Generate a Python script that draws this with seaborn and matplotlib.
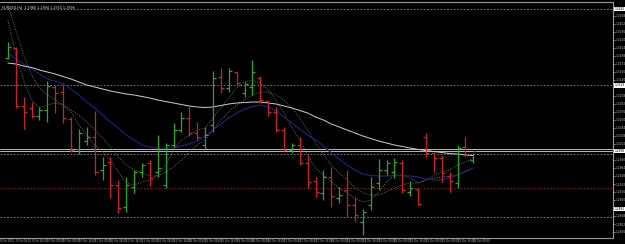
import matplotlib
matplotlib.use("Agg")
import matplotlib.pyplot as plt
import seaborn as sns
import pandas as pd
import numpy as np

# ---------------- data ----------------
bar_open = [1.3184, 1.3204, 1.3088, 1.3084, 1.3068, 1.3080, 1.3126, 1.3116, 1.3062, 1.3002,
            1.3018, 1.3026, 1.2960, 1.2976, 1.2930, 1.2886, 1.2926, 1.2956, 1.2974, 1.2956,
            1.2930, 1.3010, 1.3040, 1.3064, 1.3034, 1.3010, 1.3050, 1.3146, 1.3124, 1.3156,
            1.3114, 1.3126, 1.3144, 1.3098, 1.3076, 1.3040, 1.3000, 1.3010, 1.2974, 1.2938,
            1.2914, 1.2946, 1.2904, 1.2920, 1.2890, 1.2856, 1.2890, 1.2934, 1.2960, 1.2956,
            1.2974, 1.2916, 1.2922, 1.3026, 1.2994, 1.2984, 1.2948, 1.2934, 1.3006, 1.2980]
bar_high = [1.3216, 1.3206, 1.3106, 1.3096, 1.3086, 1.3138, 1.3130, 1.3132, 1.3066, 1.3042,
            1.3046, 1.3078, 1.2986, 1.2986, 1.2940, 1.2946, 1.2960, 1.2974, 1.2980, 1.3030,
            1.3014, 1.3054, 1.3076, 1.3088, 1.3056, 1.3046, 1.3158, 1.3164, 1.3164, 1.3156,
            1.3136, 1.3180, 1.3148, 1.3100, 1.3086, 1.3046, 1.3014, 1.3026, 1.2990, 1.2946,
            1.2960, 1.2966, 1.2926, 1.2960, 1.2906, 1.2882, 1.2946, 1.2982, 1.2980, 1.2984,
            1.2980, 1.2938, 1.2924, 1.3034, 1.2996, 1.2990, 1.2956, 1.3010, 1.3026, 1.2994]
bar_low = [1.3182, 1.3084, 1.3042, 1.3064, 1.3060, 1.3056, 1.3074, 1.3054, 1.2996, 1.2992,
           1.3010, 1.2950, 1.2940, 1.2904, 1.2874, 1.2876, 1.2914, 1.2946, 1.2928, 1.2946,
           1.2924, 1.3006, 1.3036, 1.3028, 1.3020, 1.3000, 1.3036, 1.3114, 1.3116, 1.3130,
           1.3106, 1.3110, 1.3094, 1.3068, 1.3036, 1.2998, 1.2994, 1.2970, 1.2924, 1.2906,
           1.2900, 1.2886, 1.2894, 1.2866, 1.2856, 1.2830, 1.2880, 1.2920, 1.2950, 1.2944,
           1.2914, 1.2908, 1.2890, 1.2986, 1.2956, 1.2936, 1.2916, 1.2924, 1.2986, 1.2974]
bar_close = [1.3206, 1.3088, 1.3076, 1.3068, 1.3080, 1.3128, 1.3114, 1.3064, 1.3000, 1.3034,
             1.3026, 1.2956, 1.2970, 1.2930, 1.2884, 1.2930, 1.2956, 1.2970, 1.2944, 1.2964,
             1.3010, 1.3040, 1.3064, 1.3034, 1.3026, 1.3030, 1.3144, 1.3124, 1.3158, 1.3134,
             1.3132, 1.3156, 1.3100, 1.3076, 1.3040, 1.3000, 1.3010, 1.2974, 1.2936, 1.2916,
             1.2946, 1.2908, 1.2910, 1.2890, 1.2870, 1.2876, 1.2926, 1.2960, 1.2974, 1.2976,
             1.2920, 1.2924, 1.2892, 1.2994, 1.2984, 1.2954, 1.2938, 1.3004, 1.2992, 1.2998]

ma_slow_white = [1.3174, 1.3172, 1.3168, 1.3165, 1.3160, 1.3156, 1.3152, 1.3147, 1.3142, 1.3136,
                 1.3130, 1.3126, 1.3122, 1.3118, 1.3115, 1.3112, 1.3110, 1.3107, 1.3104, 1.3100,
                 1.3097, 1.3094, 1.3091, 1.3088, 1.3086, 1.3085, 1.3086, 1.3089, 1.3092, 1.3094,
                 1.3095, 1.3096, 1.3096, 1.3094, 1.3092, 1.3088, 1.3084, 1.3079, 1.3074, 1.3066,
                 1.3060, 1.3052, 1.3046, 1.3040, 1.3034, 1.3028, 1.3023, 1.3018, 1.3014, 1.3010,
                 1.3007, 1.3004, 1.3001, 1.2999, 1.2997, 1.2995, 1.2993, 1.2992, 1.2990, 1.2989]
ma_mid_blue = [1.3194, 1.3182, 1.3172, 1.3162, 1.3152, 1.3142, 1.3138, 1.3132, 1.3122, 1.3110,
               1.3096, 1.3084, 1.3070, 1.3056, 1.3044, 1.3030, 1.3020, 1.3010, 1.3006, 1.3004,
               1.3004, 1.3005, 1.3008, 1.3012, 1.3018, 1.3028, 1.3040, 1.3052, 1.3064, 1.3074,
               1.3082, 1.3087, 1.3090, 1.3086, 1.3078, 1.3066, 1.3054, 1.3042, 1.3030, 1.3020,
               1.3008, 1.2994, 1.2982, 1.2970, 1.2960, 1.2952, 1.2949, 1.2948, 1.2948, 1.2949,
               1.2949, 1.2948, 1.2946, 1.2942, 1.2940, 1.2941, 1.2944, 1.2950, 1.2958, 1.2964]
ma_fast_dot = [1.3260, 1.3190, 1.3140, 1.3100, 1.3084, 1.3090, 1.3094, 1.3090, 1.3076, 1.3050,
               1.3030, 1.3010, 1.2996, 1.2980, 1.2956, 1.2934, 1.2930, 1.2936, 1.2940, 1.2950,
               1.2970, 1.3000, 1.3020, 1.3030, 1.3040, 1.3044, 1.3064, 1.3084, 1.3104, 1.3124,
               1.3136, 1.3140, 1.3134, 1.3120, 1.3100, 1.3074, 1.3044, 1.3020, 1.2990, 1.2964,
               1.2950, 1.2936, 1.2924, 1.2914, 1.2904, 1.2896, 1.2900, 1.2916, 1.2936, 1.2950,
               1.2950, 1.2944, 1.2934, 1.2940, 1.2950, 1.2956, 1.2960, 1.2970, 1.2976, 1.2984]
ma_med_dot = [1.3290, 1.3240, 1.3190, 1.3150, 1.3124, 1.3110, 1.3100, 1.3090, 1.3080, 1.3070,
              1.3056, 1.3040, 1.3024, 1.3006, 1.2986, 1.2970, 1.2960, 1.2954, 1.2948, 1.2948,
              1.2956, 1.2966, 1.2980, 1.2996, 1.3010, 1.3020, 1.3040, 1.3060, 1.3076, 1.3090,
              1.3100, 1.3110, 1.3116, 1.3116, 1.3110, 1.3100, 1.3084, 1.3064, 1.3040, 1.3014,
              1.2990, 1.2970, 1.2954, 1.2940, 1.2924, 1.2914, 1.2910, 1.2910, 1.2916, 1.2924,
              1.2930, 1.2934, 1.2934, 1.2940, 1.2944, 1.2946, 1.2948, 1.2950, 1.2956, 1.2964]

grey_levels = [1.3282, 1.3129, 1.2992, 1.2866]
red_level = 1.2923
ask_price = 1.3002
bid_price = 1.2998

price_ticks = [1.3268, 1.3252, 1.3236, 1.3220, 1.3204, 1.3188, 1.3172, 1.3156, 1.3140, 1.3124,
               1.3108, 1.3092, 1.3076, 1.3060, 1.3044, 1.3028, 1.3012, 1.2996, 1.2980, 1.2964,
               1.2948, 1.2932, 1.2916, 1.2900, 1.2884, 1.2868, 1.2852, 1.2836]
marked_prices = [1.3282, 1.3129, 1.2998, 1.2882]

time_label_bars = [-1, 1, 3, 5, 7, 9, 11, 13, 15, 17, 19, 21, 23, 25, 27, 29, 31, 33, 35, 37,
                   39, 41, 43, 45, 47, 49, 51, 53, 55, 57, 59]
time_labels = ["9 Oct 2012", "9 Oct 08:00", "9 Oct 16:00", "10 Oct 00:00", "10 Oct 08:00",
               "10 Oct 16:00", "11 Oct 00:00", "11 Oct 08:00", "11 Oct 16:00", "12 Oct 00:00",
               "12 Oct 08:00", "12 Oct 16:00", "15 Oct 00:00", "15 Oct 08:00", "15 Oct 16:00",
               "16 Oct 00:00", "16 Oct 08:00", "16 Oct 16:00", "17 Oct 00:00", "17 Oct 08:00",
               "17 Oct 16:00", "18 Oct 00:00", "18 Oct 08:00", "18 Oct 16:00", "19 Oct 00:00",
               "19 Oct 08:00", "19 Oct 16:00", "22 Oct 00:00", "22 Oct 08:00", "22 Oct 16:00",
               "23 Oct 00:00"]
title_text = "EURUSD,H4  1.2980 1.2994 1.2974 1.2998"

# ---------------- drawing ----------------
sns.set_style("dark", {"axes.facecolor": "black", "figure.facecolor": "black"})
plt.rcParams["font.family"] = ["DejaVu Sans"]

W, H = 625, 244
fig = plt.figure(figsize=(W / 100, H / 100), dpi=100)
ax = fig.add_axes([0, 6.5 / H, 613 / W, 235.5 / H])
ax.set_facecolor("black")

n = len(bar_open)
df = pd.DataFrame({"bar": np.arange(n), "open": bar_open, "high": bar_high,
                   "low": bar_low, "close": bar_close,
                   "white": ma_slow_white, "blue": ma_mid_blue,
                   "fast": ma_fast_dot, "med": ma_med_dot})

# horizontal levels
for lv in grey_levels:
    ax.axhline(lv, color="#8a8a8a", lw=0.6, ls=(0, (2, 2)), zorder=1)
ax.axhline(red_level, color="#8b1c1c", lw=0.6, ls=(0, (2, 2)), zorder=1)
ax.axhline(ask_price, color="#d8d8d8", lw=0.6, zorder=1)
ax.axhline(bid_price, color="#d8d8d8", lw=0.6, zorder=1)

# indicator lines
sns.lineplot(data=df, x="bar", y="fast", ax=ax, color="#5d6b5d", lw=0.6,
             linestyle=(0, (1.5, 1.5)), zorder=2)
sns.lineplot(data=df, x="bar", y="med", ax=ax, color="#5d6b5d", lw=0.6,
             linestyle=(0, (1.5, 1.5)), zorder=2)
sns.lineplot(data=df, x="bar", y="blue", ax=ax, color="#1e1e78", lw=0.9, zorder=2)
sns.lineplot(data=df, x="bar", y="white", ax=ax, color="#cfcfcf", lw=0.7, zorder=3)

# OHLC bars
up = df["close"] >= df["open"]
colors = np.where(up, "#2fa52f", "#c82424")
ax.vlines(df["bar"], df["low"], df["high"], colors=colors, lw=0.9, zorder=4)
ax.hlines(df["open"], df["bar"] - 0.38, df["bar"], colors=colors, lw=0.9, zorder=4)
ax.hlines(df["close"], df["bar"], df["bar"] + 0.38, colors=colors, lw=0.9, zorder=4)

ax.set_xlim(-0.886, 76.71)
ax.set_ylim(1.2825, 1.3296)
ax.set_xlabel("")
ax.set_ylabel("")
ax.grid(False)

# right price scale (labels hidden where a marked price box sits)
shown_ticks = [p for p in price_ticks if min(abs(p - m) for m in marked_prices) > 0.0007]
ax.yaxis.tick_right()
ax.set_yticks(shown_ticks)
ax.set_yticklabels([f"{p:.4f}" for p in shown_ticks])
ax.tick_params(axis="y", colors="#bbbbbb", labelsize=2.1, length=1.2, width=0.5, pad=0.6)
for p in marked_prices:
    ax.text(1.0025, p, f"{p:.4f}", transform=ax.get_yaxis_transform(), fontsize=2.1,
            color="black", va="center", ha="left",
            bbox=dict(boxstyle="square,pad=0.12", fc="white", ec="none"), zorder=6,
            clip_on=False)

# time scale
ax.set_xticks(time_label_bars)
ax.set_xticklabels(time_labels)
ax.tick_params(axis="x", colors="#bbbbbb", labelsize=1.9, length=1.0, width=0.5,
               pad=0.3, direction="out")
for lab in ax.get_xticklabels():
    lab.set_horizontalalignment("left")

for side in ["top", "right", "bottom"]:
    ax.spines[side].set_visible(True)
    ax.spines[side].set_color("#9a9a9a")
    ax.spines[side].set_linewidth(0.8)
ax.spines["left"].set_visible(False)

ax.text(0.003, 0.985, title_text, transform=ax.transAxes, fontsize=2.4,
        color="#e0e0e0", va="top", ha="left")

fig.savefig("out.png", dpi=100, facecolor="black")
